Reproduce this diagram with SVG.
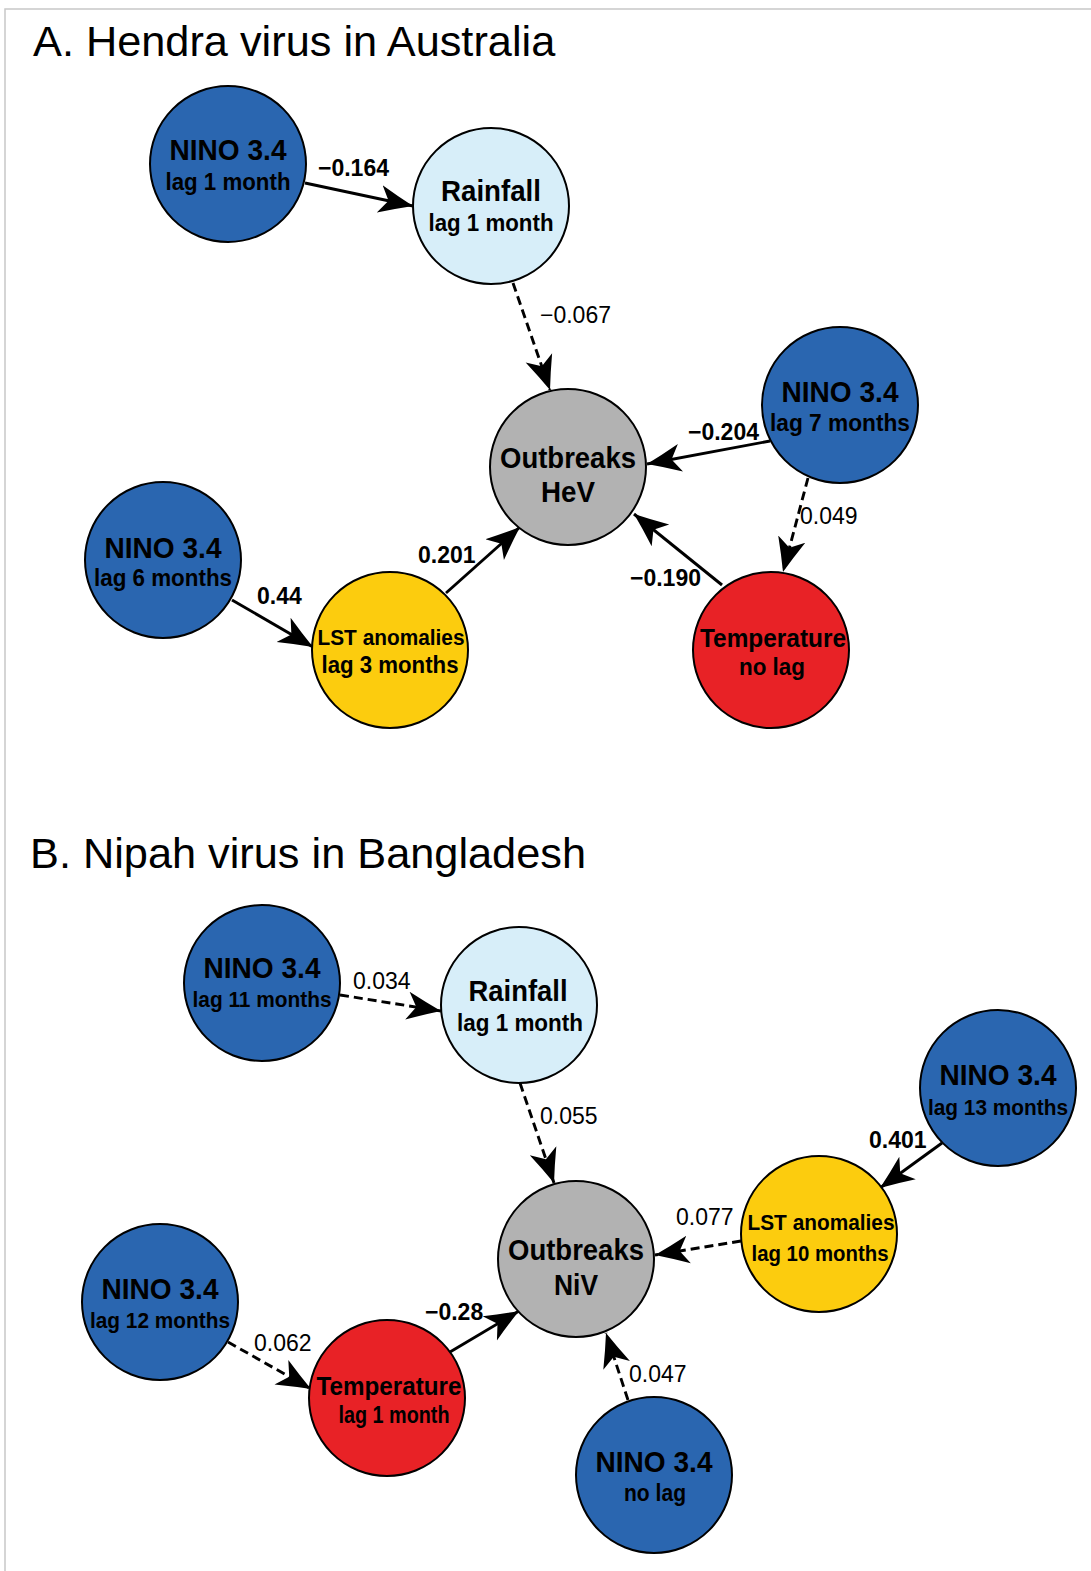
<svg xmlns="http://www.w3.org/2000/svg" width="1091" height="1571" viewBox="0 0 1091 1571">
<style>
.title{font-family:"Liberation Sans",Arial,sans-serif;font-size:43.3px;fill:#000}
.n{stroke:#000;stroke-width:2}
.blue{fill:#2a66b0}.lblue{fill:#d7eef9}.gray{fill:#b2b2b2}.yel{fill:#fccc0e}.red{fill:#e82226}
.t{font-family:"Liberation Sans",Arial,sans-serif;font-weight:bold;fill:#000;text-anchor:middle}
.e{stroke:#000;stroke-width:2.9;fill:none;marker-end:url(#ah)}
.d{stroke-dasharray:9 5}
.lb{font-family:"Liberation Sans",Arial,sans-serif;font-size:23px;font-weight:bold;fill:#000}
.lr{font-family:"Liberation Sans",Arial,sans-serif;font-size:23px;fill:#000}
</style>
<defs>
<marker id="ah" markerUnits="userSpaceOnUse" markerWidth="38" markerHeight="32" viewBox="0 -16 38 32" refX="34" refY="0" orient="auto">
<path d="M0,-14 Q18,-6 34,0 Q18,6 0,14 L9,0 Z" fill="#000"/>
</marker>
</defs>
<rect width="1091" height="1571" fill="#fff"/>
<path d="M5,1571 V9 H1091" fill="none" stroke="#c8c8c8" stroke-width="1.5"/>
<text class="title" x="33" y="56">A. Hendra virus in Australia</text>
<text class="title" x="30" y="868">B. Nipah virus in Bangladesh</text>

<g id="connectors">
<path class="e" d="M305,183 L413,206"/>
<path class="e d" d="M513,283 L550,390"/>
<path class="e" d="M770,441 L647,464"/>
<path class="e d" d="M808,478 L783,572"/>
<path class="e" d="M722,585 L634,514"/>
<path class="e" d="M232,600 L313,647"/>
<path class="e" d="M446,593 L520,527"/>
<path class="e d" d="M340,995 L441,1011"/>
<path class="e d" d="M520,1083 L554,1183"/>
<path class="e" d="M942,1143 L880,1188"/>
<path class="e d" d="M741,1241 L655,1255"/>
<path class="e d" d="M228,1342 L311,1389"/>
<path class="e" d="M450,1352 L519,1311"/>
<path class="e d" d="M628,1400 L606,1333"/>
<text class="lb" x="318" y="176">−0.164</text>
<text class="lr" x="540" y="323">−0.067</text>
<text class="lb" x="688" y="440">−0.204</text>
<text class="lr" x="800" y="524">0.049</text>
<text class="lb" x="630" y="586">−0.190</text>
<text class="lb" x="257" y="604">0.44</text>
<text class="lb" x="418" y="563">0.201</text>
<text class="lr" x="353" y="989">0.034</text>
<text class="lr" x="540" y="1124">0.055</text>
<text class="lb" x="869" y="1148">0.401</text>
<text class="lr" x="676" y="1225">0.077</text>
<text class="lr" x="254" y="1351">0.062</text>
<text class="lb" x="425" y="1320">−0.28</text>
<text class="lr" x="629" y="1382">0.047</text>
</g>

<g id="a-nino-lag1"><circle class="n blue" cx="228" cy="164" r="78"/><text class="t" x="228" y="160" font-size="30" textLength="117" lengthAdjust="spacingAndGlyphs">NINO 3.4</text><text class="t" x="228" y="190" font-size="24" textLength="125" lengthAdjust="spacingAndGlyphs">lag 1 month</text></g>
<g id="a-rainfall"><circle class="n lblue" cx="491" cy="206" r="78"/><text class="t" x="491" y="201" font-size="29" textLength="100" lengthAdjust="spacingAndGlyphs">Rainfall</text><text class="t" x="491" y="231" font-size="24" textLength="125" lengthAdjust="spacingAndGlyphs">lag 1 month</text></g>
<g id="a-outbreaks"><circle class="n gray" cx="568" cy="467" r="78"/><text class="t" x="568" y="468" font-size="29" textLength="136" lengthAdjust="spacingAndGlyphs">Outbreaks</text><text class="t" x="568" y="502" font-size="29" textLength="54" lengthAdjust="spacingAndGlyphs">HeV</text></g>
<g id="a-nino-lag7"><circle class="n blue" cx="840" cy="405" r="78"/><text class="t" x="840" y="402" font-size="30" textLength="117" lengthAdjust="spacingAndGlyphs">NINO 3.4</text><text class="t" x="840" y="431" font-size="24" textLength="140" lengthAdjust="spacingAndGlyphs">lag 7 months</text></g>
<g id="a-nino-lag6"><circle class="n blue" cx="163" cy="560" r="78"/><text class="t" x="163" y="558" font-size="30" textLength="117" lengthAdjust="spacingAndGlyphs">NINO 3.4</text><text class="t" x="163" y="586" font-size="24" textLength="138" lengthAdjust="spacingAndGlyphs">lag 6 months</text></g>
<g id="a-lst"><circle class="n yel" cx="390" cy="650" r="78"/><text class="t" x="391" y="645" font-size="22.5" textLength="147" lengthAdjust="spacingAndGlyphs">LST anomalies</text><text class="t" x="390" y="673" font-size="24" textLength="137" lengthAdjust="spacingAndGlyphs">lag 3 months</text></g>
<g id="a-temperature"><circle class="n red" cx="771" cy="650" r="78"/><text class="t" x="773" y="647" font-size="26" textLength="146" lengthAdjust="spacingAndGlyphs">Temperature</text><text class="t" x="772" y="675" font-size="24" textLength="66" lengthAdjust="spacingAndGlyphs">no lag</text></g>

<g id="b-nino-lag11"><circle class="n blue" cx="262" cy="983" r="78"/><text class="t" x="262" y="978" font-size="30" textLength="117" lengthAdjust="spacingAndGlyphs">NINO 3.4</text><text class="t" x="262" y="1007" font-size="22.5" textLength="139" lengthAdjust="spacingAndGlyphs">lag 11 months</text></g>
<g id="b-rainfall"><circle class="n lblue" cx="519" cy="1005" r="78"/><text class="t" x="518" y="1001" font-size="29" textLength="99" lengthAdjust="spacingAndGlyphs">Rainfall</text><text class="t" x="520" y="1031" font-size="24" textLength="126" lengthAdjust="spacingAndGlyphs">lag 1 month</text></g>
<g id="b-outbreaks"><circle class="n gray" cx="576" cy="1259" r="78"/><text class="t" x="576" y="1260" font-size="29" textLength="136" lengthAdjust="spacingAndGlyphs">Outbreaks</text><text class="t" x="576" y="1295" font-size="29" textLength="44" lengthAdjust="spacingAndGlyphs">NiV</text></g>
<g id="b-nino-lag13"><circle class="n blue" cx="998" cy="1088" r="78"/><text class="t" x="998" y="1085" font-size="30" textLength="117" lengthAdjust="spacingAndGlyphs">NINO 3.4</text><text class="t" x="998" y="1115" font-size="22.5" textLength="140" lengthAdjust="spacingAndGlyphs">lag 13 months</text></g>
<g id="b-lst"><circle class="n yel" cx="819" cy="1234" r="78"/><text class="t" x="821" y="1230" font-size="22.5" textLength="147" lengthAdjust="spacingAndGlyphs">LST anomalies</text><text class="t" x="820" y="1261" font-size="22.5" textLength="137" lengthAdjust="spacingAndGlyphs">lag 10 months</text></g>
<g id="b-nino-lag12"><circle class="n blue" cx="160" cy="1302" r="78"/><text class="t" x="160" y="1299" font-size="30" textLength="117" lengthAdjust="spacingAndGlyphs">NINO 3.4</text><text class="t" x="160" y="1328" font-size="22.5" textLength="140" lengthAdjust="spacingAndGlyphs">lag 12 months</text></g>
<g id="b-temperature"><circle class="n red" cx="387" cy="1398" r="78"/><text class="t" x="389" y="1395" font-size="26" textLength="145" lengthAdjust="spacingAndGlyphs">Temperature</text><text class="t" x="394" y="1423" font-size="23" textLength="111" lengthAdjust="spacingAndGlyphs">lag 1 month</text></g>
<g id="b-nino-nolag"><circle class="n blue" cx="654" cy="1475" r="78"/><text class="t" x="654" y="1472" font-size="30" textLength="117" lengthAdjust="spacingAndGlyphs">NINO 3.4</text><text class="t" x="655" y="1501" font-size="24" textLength="62" lengthAdjust="spacingAndGlyphs">no lag</text></g>
</svg>
